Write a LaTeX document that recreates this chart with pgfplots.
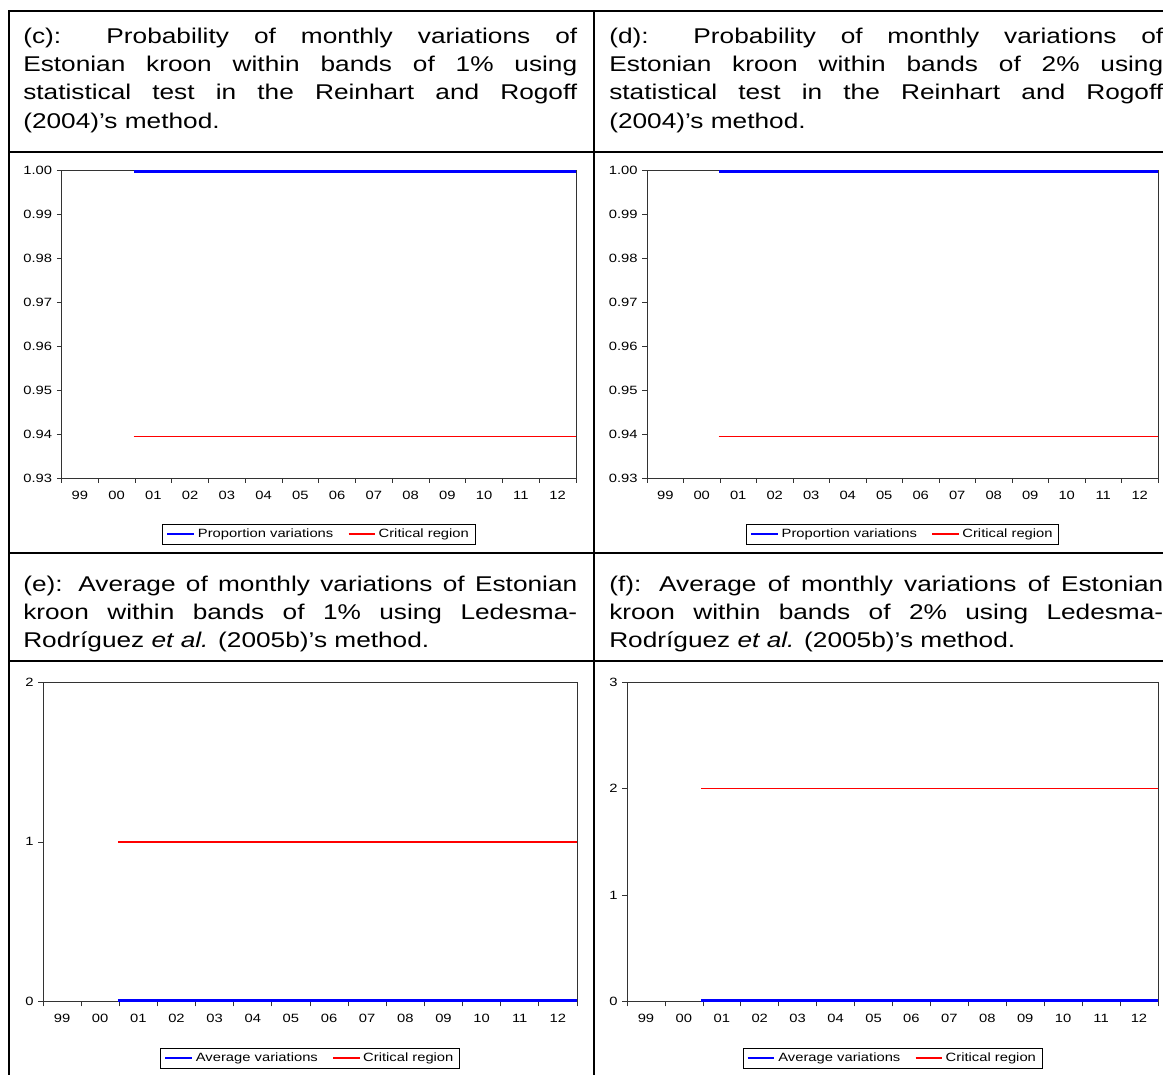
\documentclass[border=0pt]{standalone}
\usepackage{fontspec}
\setmainfont{Liberation Sans}[FakeStretch=1.23]
\usepackage{pgfplots}
\pgfplotsset{compat=1.18}
\definecolor{evred}{RGB}{255,0,0}
\definecolor{evblue}{RGB}{0,0,255}
\pgfplotsset{ev/.style={
  scale only axis, anchor=south west,
  xmin=1999, xmax=2013,
  xtick={1999,...,2013},
  xticklabels={99,00,01,02,03,04,05,06,07,08,09,10,11,12,{}},
  x tick label as interval,
  minor x tick num=3,
  tick align=outside,
  xtick pos=left, ytick pos=left,
  major tick length=3.5pt, minor tick length=2pt,
  axis line style={black!80, line width=0.6pt},
  every tick/.style={black!80, line width=0.5pt},
  every tick label/.append style={font=\fontsize{9}{10}\selectfont, text=black},
  xticklabel style={yshift=-2.5pt},
  /pgf/number format/assume math mode=true,
  clip=false,
  legend columns=2,
  legend image code/.code={\draw[##1] (0pt,0pt) -- (20pt,0pt);},
  legend style={at={(0.5,0)}, anchor=north, yshift=-34pt, draw=black, line width=0.5pt,
    font=\fontsize{9}{10}\selectfont, inner xsep=2.5pt, inner ysep=1.5pt,
    /tikz/every even column/.append style={column sep=9pt}},
  },
  evb/.style={draw=evblue, line width=2pt},
  evr/.style={draw=evred, line width=1pt},
}
\tikzset{ttl/.style={anchor=base west, inner sep=0pt, text width=415.5pt, align=justify,
  font=\fontsize{16}{21.2}\selectfont}}
\begin{document}
\begin{tikzpicture}[x=0.75pt,y=-0.75pt]
\path[use as bounding box] (0,0) rectangle (1163,1074);
\clip (0,0) rectangle (1163,1074);
% table rules
\draw[line width=1.2pt] (9,1100) -- (9,11) -- (1200,11);
\draw[line width=1.1pt] (9,152) -- (1200,152);
\draw[line width=1.1pt] (9,553) -- (1200,553);
\draw[line width=1.1pt] (9,661) -- (1200,661);
\draw[line width=1.1pt] (594,11) -- (594,1100);
% titles
\node[ttl] at (23,43.3) {\tolerance=10000\hyphenpenalty=10000
(c): Probability of monthly variations of\linebreak
Estonian kroon within bands of 1\% using\linebreak
statistical test in the Reinhart and Rogoff\linebreak
(2004)’s method.\par};
\node[ttl] at (609,43.3) {\tolerance=10000\hyphenpenalty=10000
(d): Probability of monthly variations of\linebreak
Estonian kroon within bands of 2\% using\linebreak
statistical test in the Reinhart and Rogoff\linebreak
(2004)’s method.\par};
\node[ttl] at (23,591) {\tolerance=10000\hyphenpenalty=10000
(e): Average of monthly variations of Estonian\linebreak
kroon within bands of 1\% using Ledesma-\linebreak
Rodríguez \textit{et al.} (2005b)’s method.\par};
\node[ttl] at (609,591) {\tolerance=10000\hyphenpenalty=10000
(f): Average of monthly variations of Estonian\linebreak
kroon within bands of 2\% using Ledesma-\linebreak
Rodríguez \textit{et al.} (2005b)’s method.\par};
\coordinate (Ac) at (61.5,478.3);
\coordinate (Ad) at (647,478.3);
\coordinate (Ae) at (43,1001.7);
\coordinate (Af) at (627,1001.7);
% (c)
\begin{axis}[ev, at={(Ac)}, width=385.9pt, height=231pt,
  ymin=0.93, ymax=1.00, ytick={0.93,0.94,...,1.00},
  yticklabel style={/pgf/number format/.cd, fixed, fixed zerofill, precision=2}]
\addplot[evb] coordinates {(2000.96,0.9997) (2005,0.9997) (2010,0.9997) (2013,0.9997)};
\addplot[evr] coordinates {(2000.96,0.9395) (2005,0.9395) (2010,0.9395) (2013,0.9395)};
\legend{Proportion variations, Critical region}
\end{axis}
% (d)
\begin{axis}[ev, at={(Ad)}, width=383.25pt, height=231pt,
  ymin=0.93, ymax=1.00, ytick={0.93,0.94,...,1.00},
  yticklabel style={/pgf/number format/.cd, fixed, fixed zerofill, precision=2}]
\addplot[evb] coordinates {(2000.96,0.9997) (2005,0.9997) (2010,0.9997) (2013,0.9997)};
\addplot[evr] coordinates {(2000.96,0.9395) (2005,0.9395) (2010,0.9395) (2013,0.9395)};
\legend{Proportion variations, Critical region}
\end{axis}
% (e)
\begin{axis}[ev, at={(Ae)}, width=400.5pt, height=239.8pt,
  ymin=0, ymax=2, ytick={0,1,2}, legend style={yshift=-0.4pt}]
\addplot[evb] coordinates {(2000.96,0.009) (2005,0.009) (2010,0.009) (2013,0.009)};
\addplot[evr] coordinates {(2000.96,1) (2005,1) (2010,1) (2013,1)};
\legend{Average variations, Critical region}
\end{axis}
% (f)
\begin{axis}[ev, at={(Af)}, width=398.25pt, height=239.8pt,
  ymin=0, ymax=3, ytick={0,1,2,3}, legend style={yshift=-0.4pt}]
\addplot[evb] coordinates {(2000.96,0.013) (2005,0.013) (2010,0.013) (2013,0.013)};
\addplot[evr] coordinates {(2000.96,2) (2005,2) (2010,2) (2013,2)};
\legend{Average variations, Critical region}
\end{axis}
\end{tikzpicture}
\end{document}
